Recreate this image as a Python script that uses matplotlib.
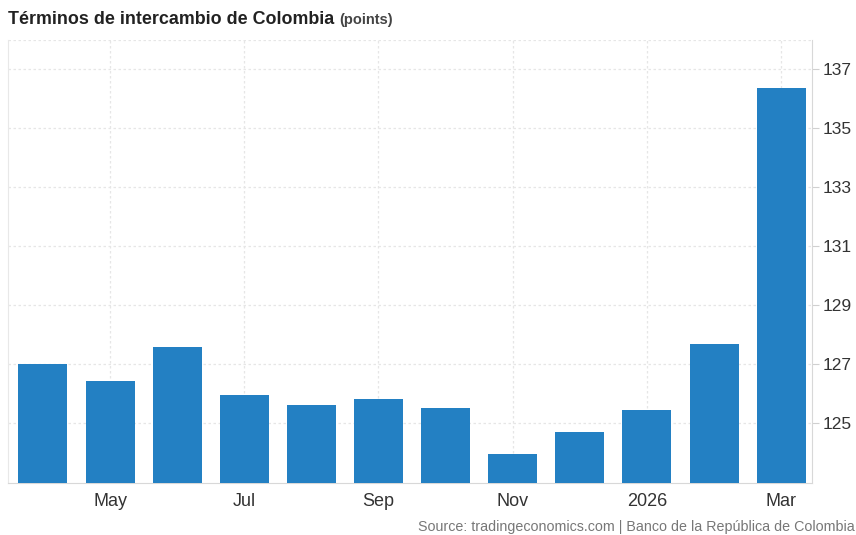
import matplotlib
matplotlib.use("Agg")
import matplotlib.pyplot as plt
import numpy as np

plt.rcParams['font.family'] = ['Liberation Sans', 'DejaVu Sans']

# monthly terms of trade, Apr 2025 - Mar 2026
months = ['Apr', 'May', 'Jun', 'Jul', 'Aug', 'Sep', 'Oct', 'Nov', 'Dec', '2026', 'Feb', 'Mar']
values = [127.0, 126.42, 127.6, 125.97, 125.61, 125.81, 125.5, 123.97, 124.69, 125.46, 127.7, 136.37]
y_ticks = [125, 127, 129, 131, 133, 135, 137]
labelled = [1, 3, 5, 7, 9, 11]

W, H = 856, 535
fig = plt.figure(figsize=(W / 100, H / 100), dpi=100)
ax = fig.add_axes([8 / W, 1 - 483 / H, (812 - 8) / W, (483 - 40) / H])

x = np.arange(len(months))
ax.bar(x, values, width=0.73, color='#2380c3', zorder=3)

ax.set_xlim(-0.52, 11.46)
ax.set_ylim(122.97, 138.0)

ax.yaxis.tick_right()
ax.set_yticks(y_ticks)
ax.set_yticklabels([str(t) for t in y_ticks], fontsize=12.5, color='#333333')
ax.tick_params(axis='y', length=5, width=0.8, color='#d0d0d0', pad=3)

ax.set_xticks(x[labelled])
ax.set_xticklabels([months[i] for i in labelled], fontsize=13, color='#333333')
ax.tick_params(axis='x', length=0, pad=7)

ax.grid(True, axis='both', color='#e6e6e6', linestyle=(0, (2, 2)), linewidth=0.9, zorder=0)
ax.axhline(138.0, color='#e6e6e6', linestyle=(0, (2, 2)), linewidth=0.9, zorder=0)

ax.spines['top'].set_visible(False)
ax.spines['left'].set_color('#e8e8e8')
ax.spines['right'].set_color('#d8d8d8')
ax.spines['bottom'].set_color('#d8d8d8')

# title with smaller unit suffix
t1 = fig.text(8 / W, 1 - 19 / H, 'Términos de intercambio de Colombia', fontsize=12.9,
              fontweight='bold', color='#222222', va='center', ha='left')
fig.canvas.draw()
bb = t1.get_window_extent(renderer=fig.canvas.get_renderer())
fig.text((bb.x1 + 5) / W, 1 - 20 / H, '(points)', fontsize=10.5, fontweight='bold',
         color='#444444', va='center', ha='left')

fig.text(855 / W, 1 - 527 / H, 'Source: tradingeconomics.com | Banco de la República de Colombia',
         fontsize=10.3, color='#777777', ha='right', va='center')

fig.savefig('out.png', dpi=100)
